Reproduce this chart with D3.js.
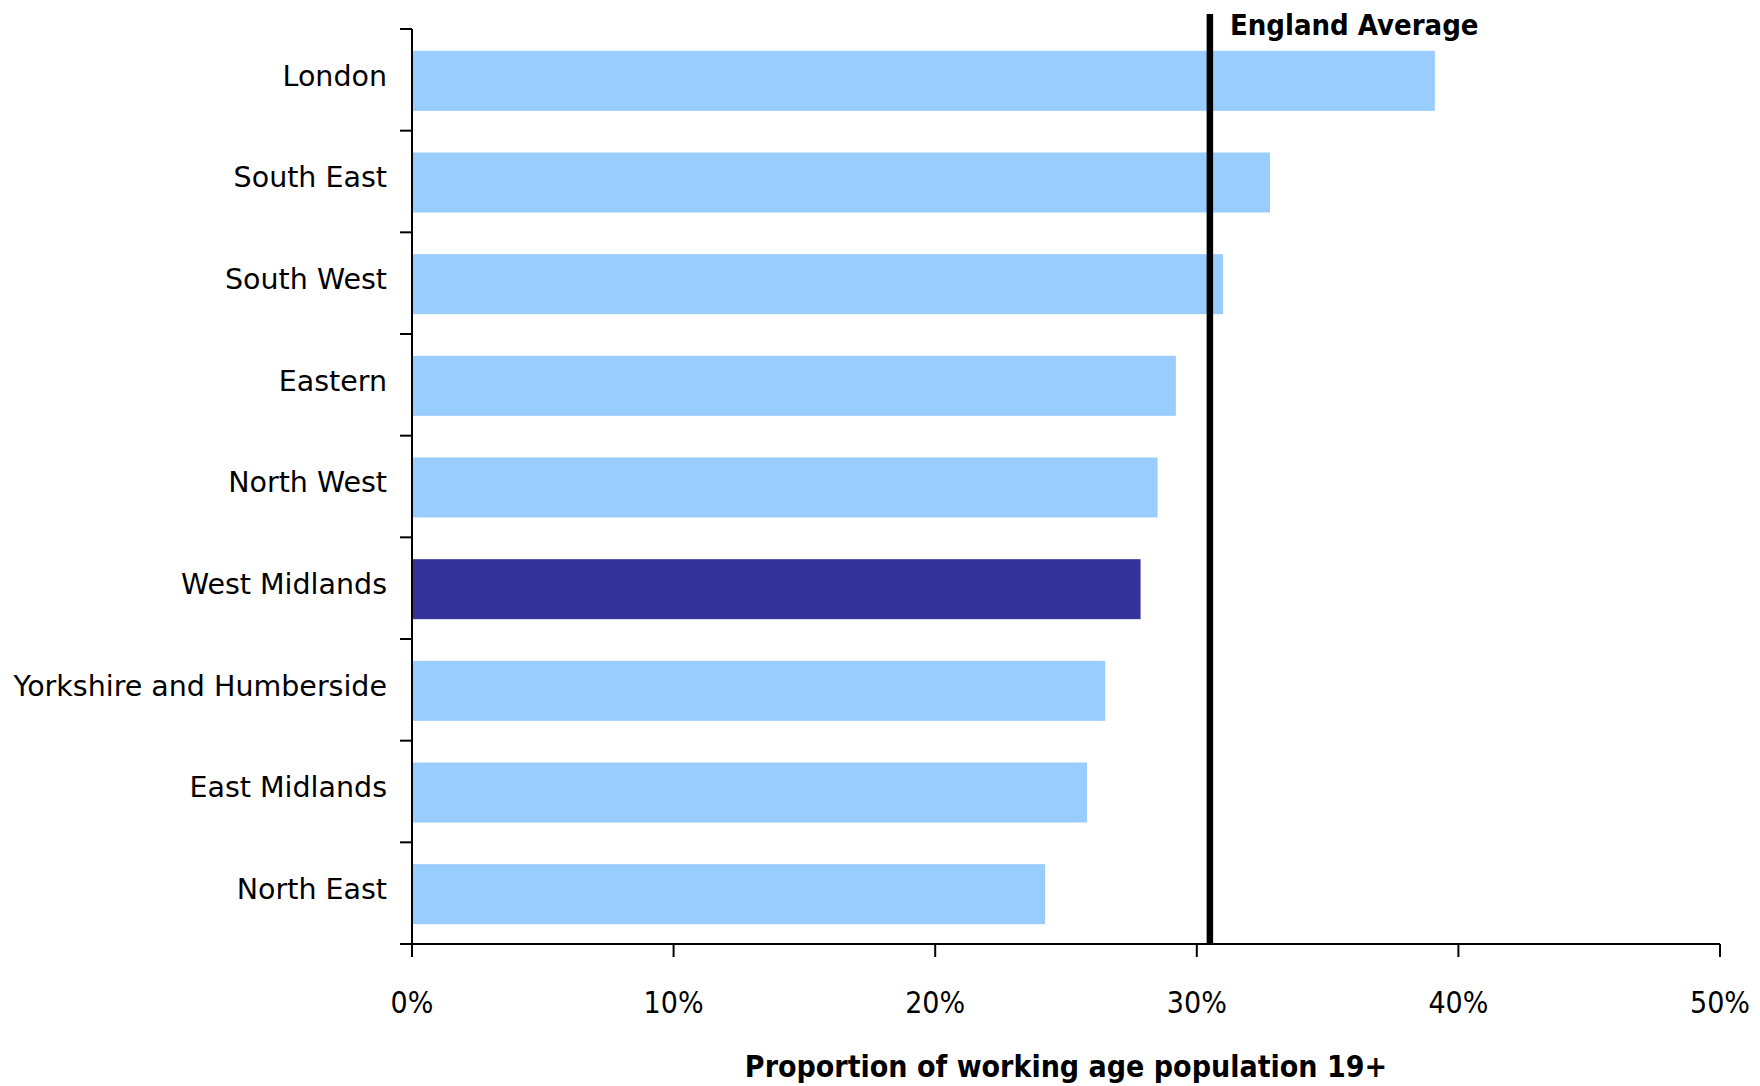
<!DOCTYPE html>
<html><head><meta charset="utf-8">
<script src="https://cdn.jsdelivr.net/npm/d3@7"></script>
<style>body{margin:0;background:#fff}svg{display:block}</style>
</head><body>
<svg id="c" width="1760" height="1086"></svg>
<script>
const regions = ["London","South East","South West","Eastern","North West","West Midlands","Yorkshire and Humberside","East Midlands","North East"];
const values = [39.1,32.8,31.0,29.2,28.5,27.85,26.5,25.8,24.2];
const highlight = ["West Midlands"];
const englandAverage = 30.5;
const xTicks = [0,10,20,30,40,50];
const xTitle = "Proportion of working age population 19+";
const avgLabel = "England Average";

const svg = d3.select("#c");
const m = {left:412, right:1720, top:29, bottom:944};
const FONTC = "'DejaVu Sans Condensed','DejaVu Sans',sans-serif";
const FONT = "'DejaVu Sans',sans-serif";

const x = d3.scaleLinear().domain([0,50]).range([m.left,m.right]);
const y = d3.scaleBand().domain(regions).range([m.top,m.bottom]).paddingInner(0.41).paddingOuter(0.205);
const yb = d3.scaleBand().domain(regions).range([m.top,m.bottom]);

svg.append("g").selectAll("rect").data(regions).join("rect")
  .attr("x", x(0)).attr("y", d=>y(d)+1)
  .attr("width", (d,i)=>x(values[i])-x(0)).attr("height", y.bandwidth())
  .attr("fill", d=>highlight.includes(d) ? "#333399" : "#99CCFF");

// y axis
const gy = svg.append("g").attr("stroke","#000").attr("stroke-width",2);
gy.append("line").attr("x1",m.left).attr("x2",m.left).attr("y1",m.top).attr("y2",m.bottom);
const bounds = regions.map(d=>yb(d)).concat([m.bottom]);
gy.selectAll("line.t").data(bounds).join("line").attr("class","t")
  .attr("x1",m.left-12).attr("x2",m.left).attr("y1",d=>d).attr("y2",d=>d);

svg.append("g").selectAll("text").data(regions).join("text")
  .attr("x", m.left-25).attr("y", d=>yb(d)+yb.bandwidth()/2-4)
  .attr("dy","0.35em").attr("text-anchor","end")
  .attr("font-family",FONT).attr("font-size",28.5).attr("fill","#000")
  .text(d=>d);

// x axis
const gx = svg.append("g").attr("stroke","#000").attr("stroke-width",2);
gx.append("line").attr("x1",m.left-12).attr("x2",m.right).attr("y1",m.bottom).attr("y2",m.bottom);
gx.selectAll("line.t").data(xTicks).join("line").attr("class","t")
  .attr("x1",d=>x(d)).attr("x2",d=>x(d)).attr("y1",m.bottom).attr("y2",m.bottom+13);
svg.append("g").selectAll("text").data(xTicks).join("text")
  .attr("x", d=>x(d)).attr("y", 1002).attr("dy","0.35em").attr("text-anchor","middle")
  .attr("font-family",FONTC).attr("font-size",30).attr("fill","#000")
  .text(d=>d+"%");

svg.append("text").attr("x",(m.left+m.right)/2).attr("y",1066).attr("dy","0.35em")
  .attr("text-anchor","middle").attr("font-family",FONTC).attr("font-weight","bold")
  .attr("font-size",30).text(xTitle);

// England average line
svg.append("line").attr("x1",x(englandAverage)).attr("x2",x(englandAverage))
  .attr("y1",14).attr("y2",m.bottom).attr("stroke","#000").attr("stroke-width",6.5);
svg.append("text").attr("x",x(englandAverage)+20).attr("y",25).attr("dy","0.35em")
  .attr("font-family",FONTC).attr("font-weight","bold").attr("font-size",29).text(avgLabel);
</script>
</body></html>
